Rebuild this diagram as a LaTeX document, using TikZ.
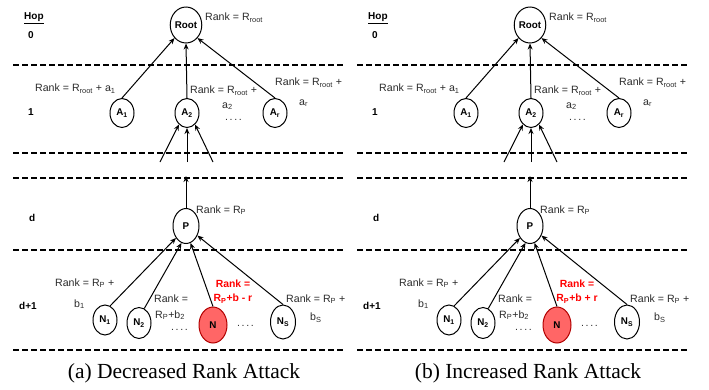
\documentclass[tikz,border=0pt]{standalone}
\usepackage{fontspec}
\setmainfont{Liberation Sans}
\newfontfamily\capfont{Liberation Serif}
\usetikzlibrary{shapes.geometric,arrows.meta}
\definecolor{txt}{HTML}{2B2B2B}
\definecolor{redfill}{HTML}{FF6666}
\definecolor{redline}{HTML}{B20000}
\definecolor{redtxt}{HTML}{FF0000}
\newcommand\sbx[1]{\textsubscript{#1}}
\newcommand\dotsrow{.\hspace{1.6pt}.\hspace{1.6pt}.\hspace{1.6pt}.}
\tikzset{
 nd/.style={ellipse, draw, line width=1pt, inner sep=0pt, font=\fontsize{9.8}{10}\selectfont\bfseries},
 lbl/.style={anchor=west, inner sep=0pt, font=\fontsize{10.6}{11}\selectfont, text=txt},
 redlbl/.style={anchor=center, inner sep=0pt, font=\fontsize{10.4}{11}\selectfont\bfseries, text=redtxt},
 hoplbl/.style={anchor=west, inner sep=0pt, font=\fontsize{10}{11}\selectfont\bfseries},
 sepline/.style={dash pattern=on 5.5pt off 3.5pt, line width=1.3pt},
 conn/.style={line width=1pt, -{Stealth[length=6pt,width=5pt]}},
 captext/.style={inner sep=0pt, font=\capfont\fontsize{21.5}{24}\selectfont}
}
\newcommand\panel[4]{%
\begin{scope}[shift={(#2,0)}, name prefix=#1-]
 % separators
 \foreach \yy in {65,153,178,250,350} \draw[sepline] (13,\yy) -- (345,\yy);
 % hop labels
 \node[hoplbl] (hop) at (24,18) {\underline{Hop}};
 \node[hoplbl] (h0) at (28,35) {0};
 \node[hoplbl] (h1) at (28,112) {1};
 \node[hoplbl] (hd) at (29,218) {d};
 \node[hoplbl] (hd1) at (19,306) {d+1};
 % nodes
 \node[nd, minimum width=28, minimum height=36] (Root) at (186,25) {Root};
 \node[nd, minimum width=24, minimum height=29] (A1) at (122,113) {A\sbx{1}};
 \node[nd, minimum width=24, minimum height=29] (A2) at (187,113) {A\sbx{2}};
 \node[nd, minimum width=24, minimum height=29] (Ar) at (275,113) {A\sbx{r}};
 \node[nd, minimum width=26, minimum height=35] (P) at (186,226) {P};
 \node[nd, minimum width=24, minimum height=30] (N1) at (105,320) {N\sbx{1}};
 \node[nd, minimum width=24, minimum height=31] (N2) at (139,323) {N\sbx{2}};
 \node[nd, minimum width=28, minimum height=36, fill=redfill, draw=redline] (N) at (213,325) {N};
 \node[nd, minimum width=25, minimum height=34] (Ns) at (283,322) {N\sbx{S}};
 % connectors
 \draw[conn] (A1.north) -- (Root.south west);
 \draw[conn] (A2.north) -- (Root.south);
 \draw[conn] (Ar.north) -- (Root.south east);
 \coordinate (u1) at (160,162);
 \coordinate (u2) at (187,162);
 \coordinate (u3) at (213,162);
 \coordinate (u4) at (186,176);
 \draw[conn] (u1) -- (A2.235);
 \draw[conn] (u2) -- (A2.south);
 \draw[conn] (u3) -- (A2.305);
 \draw[conn] (P.north) -- (u4);
 \draw[conn] (N1.70) -- (P.230);
 \draw[conn] (N2.70) -- (P.255);
 \draw[conn] (N.north) -- (P.285);
 \draw[conn] (Ns.north) -- (P.320);
 % labels
 \node[lbl] (l0) at (205,18) {Rank = R\sbx{root}};
 \node[lbl] (l1) at (35,89) {Rank = R\sbx{root} + a\sbx{1}};
 \node[lbl] (l2) at (190,91) {Rank = R\sbx{root} +};
 \node[lbl] (l2b) at (222,106) {a\sbx{2}};
 \node[lbl] (l2c) at (225,120) {\dotsrow};
 \node[lbl] (l3) at (275,83) {Rank = R\sbx{root} +};
 \node[lbl] (l3b) at (299,103) {a\sbx{r}};
 \node[lbl] (lp) at (196,210) {Rank = R\sbx{P}};
 \node[lbl] (ln1) at (55,283) {Rank = R\sbx{P} +};
 \node[lbl] (ln1b) at (74,304) {b\sbx{1}};
 \node[lbl] (ln2) at (154,299) {Rank =};
 \node[lbl] (ln2b) at (155,315) {R\sbx{P}+b\sbx{2}};
 \node[lbl] (ln2c) at (171,330) {\dotsrow};
 \node[redlbl] (lr1) at (233,284) {Rank =};
 \node[redlbl] (lr2) at (233,299) {R\sbx{P}+b #3 r};
 \node[lbl] (lnc) at (237,326) {\dotsrow};
 \node[lbl] (lns) at (286,299) {Rank = R\sbx{P} +};
 \node[lbl] (lnsb) at (310,318) {b\sbx{S}};
 \node[captext] (caption) at (184,373) {#4};
\end{scope}}
\begin{document}
\begin{tikzpicture}[x=1pt,y=-1pt]
\useasboundingbox (0,0) rectangle (709,389);
\panel{a}{0}{-}{(a) Decreased Rank Attack}
\panel{b}{344}{+}{(b) Increased Rank Attack}
\end{tikzpicture}
\end{document}
